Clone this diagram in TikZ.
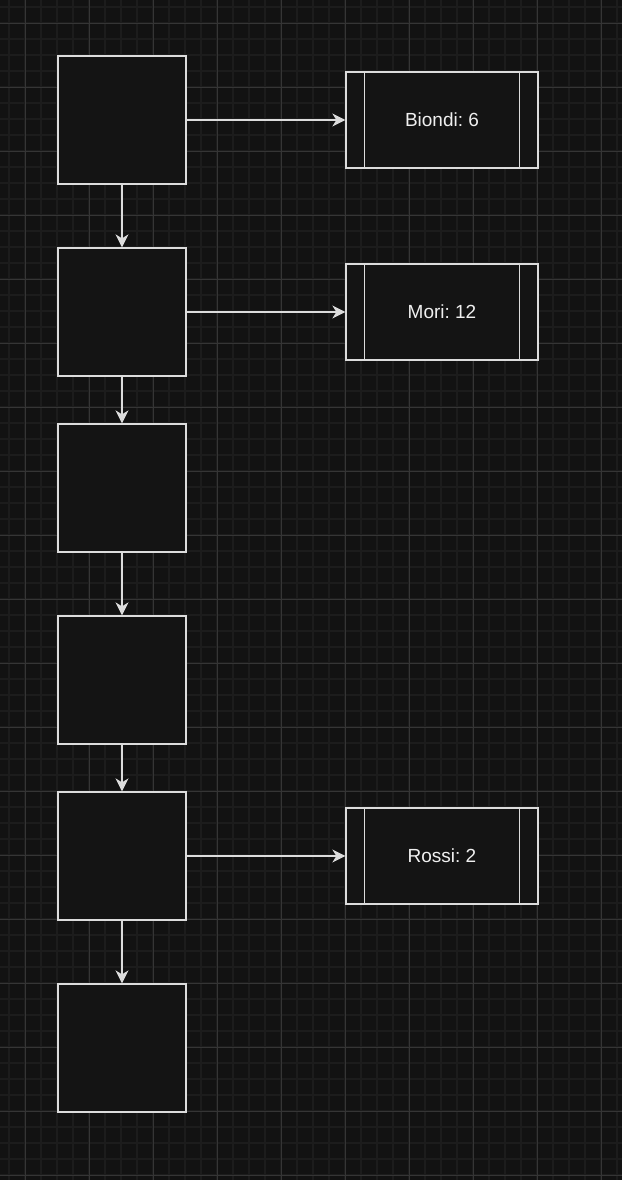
\documentclass[tikz,border=0pt]{standalone}
\usepackage{fontspec}
\setmainfont{Liberation Sans}
\usetikzlibrary{arrows.meta}
\definecolor{canvas}{HTML}{121212}
\definecolor{boxfill}{HTML}{141414}
\definecolor{minorline}{HTML}{1C1C1C}
\definecolor{majorline}{HTML}{353535}
\definecolor{stroke}{HTML}{DCDCDC}
\definecolor{label}{HTML}{F0F0F0}
\frenchspacing

\begin{document}
\begin{tikzpicture}[
      x=1pt,y=-1pt,
      minor grid/.style={draw=minorline,line width=1.6pt},
      major grid/.style={draw=majorline,line width=0.7pt},
      entry/.style={rectangle,draw=stroke,fill=boxfill,line width=1.3pt,minimum width=128pt,minimum height=128pt,inner sep=0},
      record/.style={rectangle,draw=stroke,fill=boxfill,line width=1.3pt,minimum width=192pt,minimum height=96pt,inner sep=0,text=label,font=\fontsize{19}{22}\selectfont},
      link/.style={draw=stroke,line width=1.3pt,-{Stealth[length=13pt,width=13pt,inset=4pt]}},
    ]
    \useasboundingbox (0,0) rectangle (622,1180);
    \fill[canvas] (0,0) rectangle (622,1180);
    \foreach \gx in {9,25,...,617} \draw[minor grid] (\gx,0) -- (\gx,1180);
    \foreach \gy in {7,23,...,1179} \draw[minor grid] (0,\gy) -- (622,\gy);
    \foreach \gx in {25,89,...,617} \draw[major grid] (\gx,0) -- (\gx,1180);
    \foreach \gy in {23,87,...,1179} \draw[major grid] (0,\gy) -- (622,\gy);
    \node[entry] (e1) at (122,120) {};
    \node[entry] (e2) at (122,312) {};
    \node[entry] (e3) at (122,488) {};
    \node[entry] (e4) at (122,680) {};
    \node[entry] (e5) at (122,856) {};
    \node[entry] (e6) at (122,1048) {};
    \node[record] (Biondi) at (442,120) {Biondi: 6};
    \node[record] (Mori) at (442,312) {Mori: 12};
    \node[record] (Rossi) at (442,856) {Rossi: 2};
    \foreach \r in {Biondi,Mori,Rossi} {
      \draw[draw=stroke,line width=1.3pt] ([xshift=19pt]\r.north west) -- ([xshift=19pt]\r.south west);
      \draw[draw=stroke,line width=1.3pt] ([xshift=-19pt]\r.north east) -- ([xshift=-19pt]\r.south east);
    }
    \draw[link] (e1) -- (e2);
    \draw[link] (e2) -- (e3);
    \draw[link] (e3) -- (e4);
    \draw[link] (e4) -- (e5);
    \draw[link] (e5) -- (e6);
    \draw[link] (e1) -- (Biondi);
    \draw[link] (e2) -- (Mori);
    \draw[link] (e5) -- (Rossi);
  \end{tikzpicture}
\end{document}
